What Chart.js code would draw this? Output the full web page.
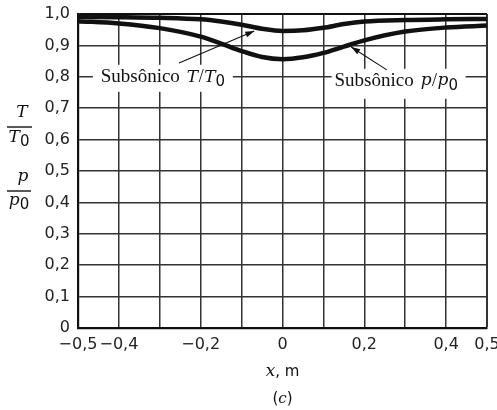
<!DOCTYPE html>
<html><head><meta charset="utf-8">
<script src="https://cdn.jsdelivr.net/npm/chart.js@4.4.0/dist/chart.umd.min.js"></script>
<style>html,body{margin:0;padding:0;background:#fff}#wrap{width:497px;height:410px;position:relative}</style>
</head><body><div id="wrap"><canvas id="c" width="497" height="410"></canvas></div>
<script>
// ---- data ----
const xValues    = [-0.5, -0.4, -0.3, -0.2, -0.15, -0.1, -0.05, 0, 0.05, 0.1, 0.15, 0.2, 0.3, 0.4, 0.5];
const tempRatio  = [0.991, 0.990, 0.988, 0.983, 0.976, 0.966, 0.953, 0.946, 0.948, 0.956, 0.968, 0.976, 0.981, 0.983, 0.984];
const pressRatio = [0.977, 0.970, 0.955, 0.928, 0.906, 0.882, 0.863, 0.856, 0.862, 0.876, 0.896, 0.916, 0.944, 0.957, 0.963];
const xLabeledTicks = [-0.5, -0.4, -0.2, 0, 0.2, 0.4, 0.5];
const xGridValues = [-0.5, -0.4, -0.3, -0.2, -0.1, 0, 0.1, 0.2, 0.3, 0.4, 0.5];
const yTickValues = [0, 0.1, 0.2, 0.3, 0.4, 0.5, 0.6, 0.7, 0.8, 0.9, 1.0];

const SERIF = '"Liberation Serif", "DejaVu Serif", serif';
const MATH = '"DejaVu Serif", "Liberation Serif", serif';
const SANS = '"DejaVu Sans", sans-serif';

function fmt(v){
  if (Math.abs(v) < 1e-9) return '0';
  return (v < 0 ? '\u2212' : '') + Math.abs(v).toFixed(1).replace('.', ',');
}

function drawRuns(ctx, runs, cx, cy){
  let total = 0;
  runs.forEach(r => { ctx.font = r.f; r.w = ctx.measureText(r.t).width + (r.gap || 0); total += r.w; });
  let x = cx - total / 2;
  ctx.textBaseline = 'middle';
  ctx.textAlign = 'left';
  runs.forEach(r => { ctx.font = r.f; ctx.fillText(r.t, x, cy + (r.dy || 0)); x += r.w; });
  return total;
}

function arrow(ctx, x1, y1, x2, y2){
  ctx.save();
  ctx.strokeStyle = '#111'; ctx.fillStyle = '#111'; ctx.lineWidth = 1.1;
  ctx.beginPath(); ctx.moveTo(x1, y1); ctx.lineTo(x2, y2); ctx.stroke();
  const a = Math.atan2(y2 - y1, x2 - x1), L = 9, W = 3;
  ctx.beginPath();
  ctx.moveTo(x2, y2);
  ctx.lineTo(x2 - L*Math.cos(a) + W*Math.sin(a), y2 - L*Math.sin(a) - W*Math.cos(a));
  ctx.lineTo(x2 - L*Math.cos(a) - W*Math.sin(a), y2 - L*Math.sin(a) + W*Math.cos(a));
  ctx.closePath(); ctx.fill();
  ctx.restore();
}

function mathRuns(sym){
  return [
    {t:'Subsônico', f:'19px ' + SERIF, gap: 7},
    {t:sym, f:'italic 17px ' + MATH, gap: 0.5},
    {t:'/', f:'18px ' + SERIF, gap: 0.5},
    {t:sym, f:'italic 17px ' + MATH},
    {t:'0', f:'15px ' + SANS, dy: 5}
  ];
}

const labelsPlugin = {
  id: 'labels',
  afterDatasetsDraw(chart){
    const ctx = chart.ctx, xs = chart.scales.x, ys = chart.scales.y;
    const px = v => xs.getPixelForValue(v), py = v => ys.getPixelForValue(v);
    ctx.save();
    // T/T0 label
    ctx.fillStyle = '#fff';
    ctx.fillRect(px(-0.2925) - 70, py(0.8) - 12, 140, 27);
    ctx.fillStyle = '#111';
    drawRuns(ctx, mathRuns('T'), px(-0.2925), py(0.8) + 0.5);
    arrow(ctx, px(-0.253), py(0.844), px(-0.069), py(0.946));
    // p/p0 label
    ctx.fillStyle = '#fff';
    ctx.fillRect(px(0.284) - 67, py(0.8) - 8, 134, 30);
    ctx.fillStyle = '#111';
    drawRuns(ctx, mathRuns('p'), px(0.278), py(0.8) + 4);
    arrow(ctx, px(0.255), py(0.822), px(0.168), py(0.895));
    ctx.restore();
  },
  afterDraw(chart){
    const ctx = chart.ctx, ca = chart.chartArea;
    ctx.save();
    ctx.fillStyle = '#111'; ctx.strokeStyle = '#111'; ctx.lineWidth = 1.4;
    // y-axis fraction titles
    drawRuns(ctx, [{t:'T', f:'italic 17px ' + MATH}], 22, 113);
    ctx.beginPath(); ctx.moveTo(7, 127); ctx.lineTo(32, 127); ctx.stroke();
    drawRuns(ctx, [{t:'T', f:'italic 17px ' + MATH}, {t:'0', f:'15px ' + SANS, dy: 4}], 19, 138);
    drawRuns(ctx, [{t:'p', f:'italic 17px ' + MATH}], 23, 177);
    ctx.beginPath(); ctx.moveTo(7, 191); ctx.lineTo(31, 191); ctx.stroke();
    drawRuns(ctx, [{t:'p', f:'italic 17px ' + MATH}, {t:'0', f:'15px ' + SANS, dy: 4}], 19, 201);
    // x-axis title and caption
    const cx = (ca.left + ca.right) / 2;
    drawRuns(ctx, [{t:'x', f:'italic 17px ' + MATH}, {t:', m', f:'15px ' + SANS}], cx, 372);
    drawRuns(ctx, [{t:'(', f:'15px ' + SANS}, {t:'c', f:'italic 15px ' + MATH}, {t:')', f:'15px ' + SANS}], cx, 399);
    ctx.restore();
  }
};

new Chart(document.getElementById('c'), {
  type: 'line',
  data: {
    datasets: [
      { label: 'T/T0', data: xValues.map((x, i) => ({x, y: tempRatio[i]})),
        borderColor: '#111', borderWidth: 4.5, pointRadius: 0, fill: false, cubicInterpolationMode: 'monotone' },
      { label: 'p/p0', data: xValues.map((x, i) => ({x, y: pressRatio[i]})),
        borderColor: '#111', borderWidth: 4.5, pointRadius: 0, fill: false, cubicInterpolationMode: 'monotone' }
    ]
  },
  options: {
    responsive: false, animation: false, devicePixelRatio: 1,
    layout: { padding: { top: 14, right: 10, left: 0, bottom: 0 } },
    plugins: { legend: { display: false }, tooltip: { enabled: false } },
    scales: {
      x: {
        type: 'linear', min: -0.5, max: 0.5,
        afterBuildTicks(s){ s.ticks = xGridValues.map(v => ({value: v})); },
        ticks: {
          autoSkip: false, maxRotation: 0, padding: 7, color: '#222',
          font: { family: 'DejaVu Sans', size: 16 },
          callback: v => xLabeledTicks.some(t => Math.abs(t - v) < 1e-6) ? fmt(v) : ''
        },
        grid: { color: '#333', lineWidth: c => (c.tick && Math.abs(c.tick.value - 0.5) < 1e-6) ? 2 : 1.5, drawTicks: false },
        border: { display: true, color: '#111', width: 2.2 },
        afterFit(s){ s.height = 82; s.paddingLeft = 0; s.paddingRight = 0; }
      },
      y: {
        min: 0, max: 1,
        afterBuildTicks(s){ s.ticks = yTickValues.map(v => ({value: v})); },
        ticks: {
          autoSkip: false, padding: 8, color: '#222',
          font: { family: 'DejaVu Sans', size: 16 },
          callback: v => fmt(v)
        },
        grid: { color: c => (c.tick && Math.abs(c.tick.value - 1) < 1e-6) ? '#111' : '#333',
                lineWidth: c => (c.tick && Math.abs(c.tick.value - 1) < 1e-6) ? 2 : 1.5, drawTicks: false },
        border: { display: true, color: '#111', width: 2.2 },
        afterFit(s){ s.width = 78; s.paddingTop = 0; s.paddingBottom = 0; }
      }
    }
  },
  plugins: [labelsPlugin]
});
</script>
</body></html>
